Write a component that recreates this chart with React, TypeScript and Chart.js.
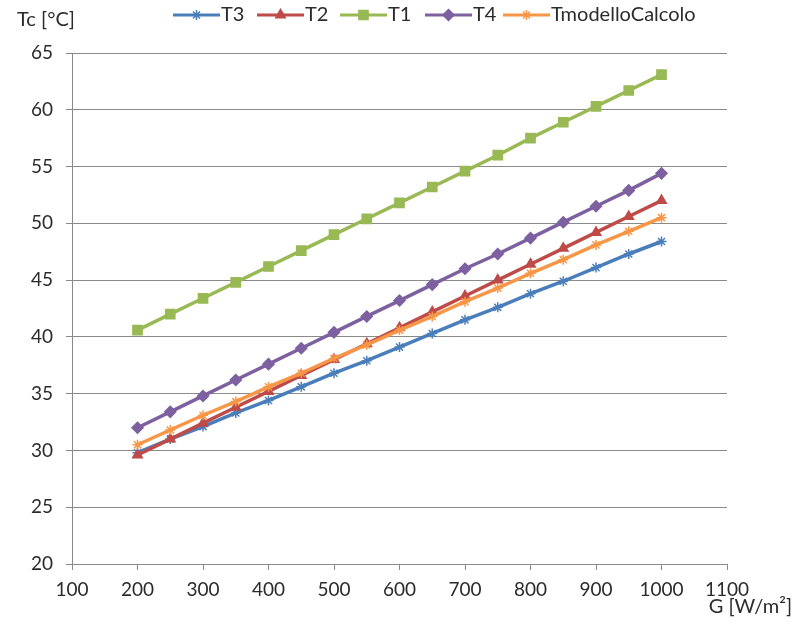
import React, { useEffect, useRef } from 'react';
import { Chart, registerables } from 'chart.js';
import { drawPoint } from 'chart.js/helpers';

Chart.register(...registerables);

const G = [200, 250, 300, 350, 400, 450, 500, 550, 600, 650, 700, 750, 800, 850, 900, 950, 1000];
const T3 = [29.8, 31.0, 32.1, 33.3, 34.4, 35.6, 36.8, 37.9, 39.1, 40.3, 41.5, 42.6, 43.8, 44.9, 46.1, 47.3, 48.4];
const T2 = [29.6, 31.0, 32.4, 33.8, 35.2, 36.6, 38.0, 39.4, 40.8, 42.2, 43.6, 45.0, 46.4, 47.8, 49.2, 50.6, 52.0];
const T1 = [40.6, 42.0, 43.4, 44.8, 46.2, 47.6, 49.0, 50.4, 51.8, 53.2, 54.6, 56.0, 57.5, 58.9, 60.3, 61.7, 63.1];
const T4 = [32.0, 33.4, 34.8, 36.2, 37.6, 39.0, 40.4, 41.8, 43.2, 44.6, 46.0, 47.3, 48.7, 50.1, 51.5, 52.9, 54.4];
const TMODELLO = [30.5, 31.8, 33.1, 34.3, 35.6, 36.8, 38.1, 39.3, 40.6, 41.8, 43.1, 44.3, 45.6, 46.8, 48.1, 49.3, 50.5];

const SERIES_NAMES = ['T3', 'T2', 'T1', 'T4', 'TmodelloCalcolo'];
const Y_TITLE = 'Tc [°C]';
const X_TITLE = 'G [W/m²]';

const FONT = 'Lato';
const GRID = '#8a8a8a';
const TEXT = '#2b2b2b';

const styles = [
  { color: '#4A7EBB', point: 'star', radius: 5, order: 5 },
  { color: '#BE4B48', point: 'triangle', radius: 5.5, order: 4 },
  { color: '#98B954', point: 'rect', radius: 6.5, order: 3 },
  { color: '#7D60A0', point: 'rectRot', radius: 5.5, order: 2 },
  { color: '#F79646', point: 'star', radius: 5, order: 1 },
];

const legendLineStarts = [173, 257, 340, 425, 503];
const legendLineLen = 47;

const textPlugin = {
  id: 'customText',
  afterDraw(chart: any) {
    const ctx = chart.ctx as CanvasRenderingContext2D;
    ctx.save();
    ctx.font = `20px ${FONT}`;
    ctx.fillStyle = TEXT;
    ctx.textBaseline = 'middle';
    ctx.textAlign = 'left';
    ctx.fillText(Y_TITLE, 17, 20);
    ctx.textAlign = 'right';
    ctx.fillText(X_TITLE, 792, 607);
    // legend
    chart.data.datasets.forEach((ds: any, i: number) => {
      const x0 = legendLineStarts[i];
      const y = 15;
      ctx.strokeStyle = ds.borderColor;
      ctx.lineWidth = 3;
      ctx.beginPath();
      ctx.moveTo(x0, y);
      ctx.lineTo(x0 + legendLineLen, y);
      ctx.stroke();
      ctx.fillStyle = ds.pointBackgroundColor;
      ctx.strokeStyle = ds.pointBorderColor;
      ctx.lineWidth = 1.5;
      drawPoint(ctx, { pointStyle: ds.pointStyle, radius: ds.pointRadius, borderWidth: 1.5, rotation: 0 } as any, x0 + legendLineLen / 2, y);
      ctx.fillStyle = TEXT;
      ctx.textAlign = 'left';
      ctx.font = `20px ${FONT}`;
      ctx.fillText(SERIES_NAMES[i], x0 + legendLineLen + 1, y);
    });
    ctx.restore();
  },
};

export default function App() {
  const ref = useRef<HTMLCanvasElement>(null);
  useEffect(() => {
    const all = [T3, T2, T1, T4, TMODELLO];
    const chart = new Chart(ref.current!, {
      type: 'line',
      data: {
        datasets: all.map((vals, i) => ({
          label: SERIES_NAMES[i],
          data: G.map((g, j) => ({ x: g, y: vals[j] })),
          borderColor: styles[i].color,
          backgroundColor: styles[i].color,
          pointBackgroundColor: styles[i].color,
          pointBorderColor: styles[i].color,
          pointStyle: styles[i].point as any,
          pointRadius: styles[i].radius,
          pointBorderWidth: 1.5,
          borderWidth: 3.5,
          tension: 0,
          order: styles[i].order,
        })),
      },
      options: {
        responsive: false,
        animation: false,
        events: [],
        layout: { padding: { top: 53, right: 68, left: 0, bottom: 0 } },
        plugins: { legend: { display: false }, tooltip: { enabled: false }, title: { display: false } },
        scales: {
          x: {
            type: 'linear',
            min: 100,
            max: 1100,
            ticks: {
              stepSize: 100, color: TEXT, font: { family: FONT, size: 19 }, padding: 8, maxRotation: 0,
              callback: (v: any) => String(v),
            },
            grid: { drawOnChartArea: false, drawTicks: true, tickLength: 6, color: GRID, lineWidth: 1 },
            border: { display: true, color: GRID, width: 1 },
            afterFit: (s: any) => { s.height = 66; },
          },
          y: {
            type: 'linear',
            min: 20,
            max: 65,
            ticks: { stepSize: 5, color: TEXT, font: { family: FONT, size: 19 }, padding: 13, callback: (v: any) => String(v) },
            grid: { drawOnChartArea: true, drawTicks: true, tickLength: 6, color: GRID, lineWidth: 1 },
            border: { display: true, color: GRID, width: 1 },
            afterFit: (s: any) => { s.width = 72; },
          },
        },
      },
      plugins: [textPlugin],
    });
    return () => chart.destroy();
  }, []);
  return (
    <div style={{ position: 'absolute', left: 0, top: 0, width: 795, height: 630, background: '#fff' }}>
      <canvas ref={ref} width={795} height={630} style={{ display: 'block' }} />
    </div>
  );
}
